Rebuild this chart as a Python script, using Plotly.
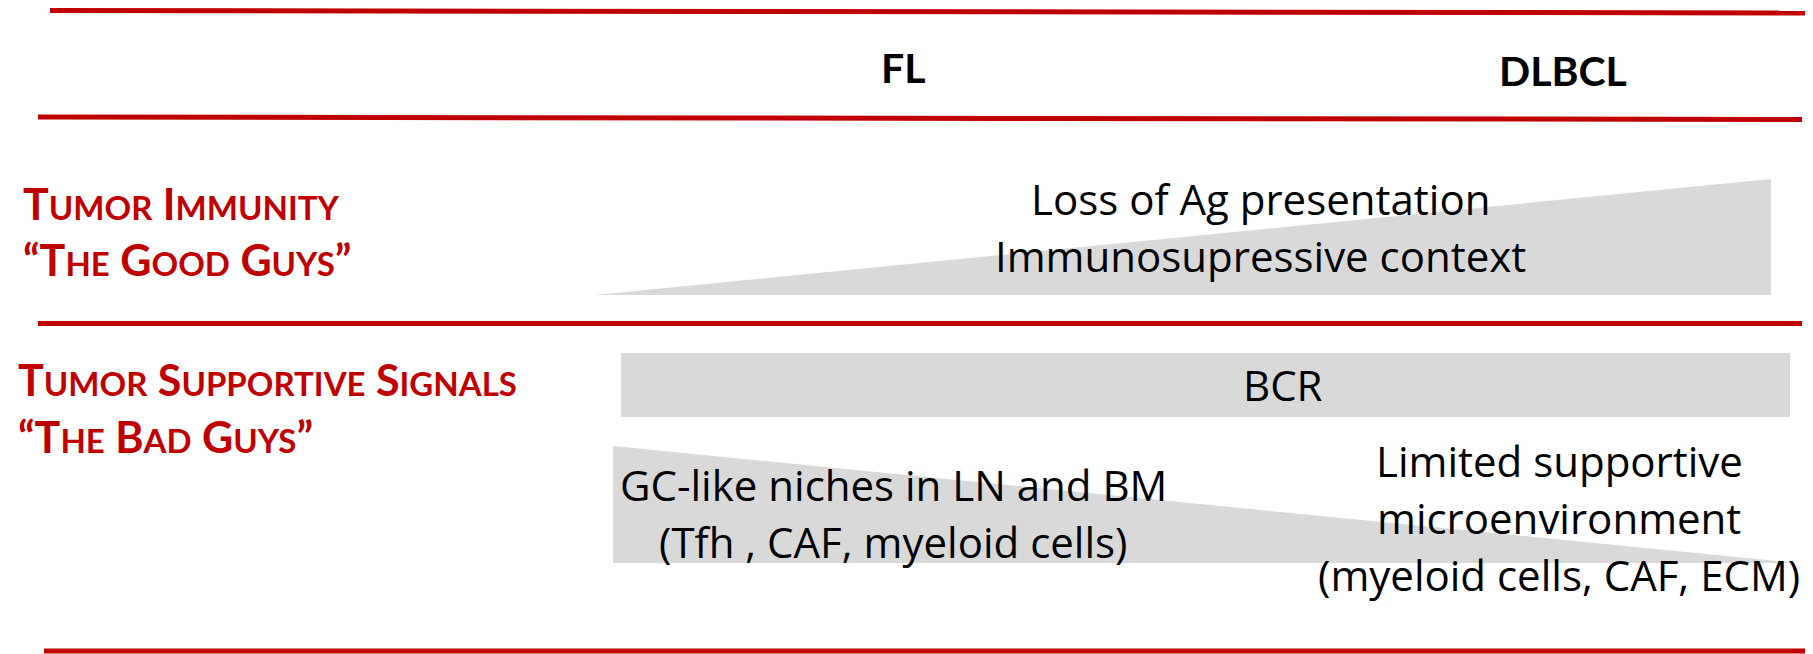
import plotly.graph_objects as go

# ---- content ----
stages = ["FL", "DLBCL"]
row_titles = [
    ["TUMOR IMMUNITY", "“THE GOOD GUYS”"],
    ["TUMOR SUPPORTIVE SIGNALS", "“THE BAD GUYS”"],
]
immunity_lines = ["Loss of Ag presentation", "Immunosupressive context"]
bcr_label = "BCR"
fl_niche_lines = ["GC-like niches in LN and BM", "(Tfh , CAF, myeloid cells)"]
dlbcl_niche_lines = ["Limited supportive", "microenvironment", "(myeloid cells, CAF, ECM)"]

RED = "#C00000"
GRAY = "#D9D9D9"
W, H = 1813, 654
OFF = 8  # page body margin: makes data coords equal page pixels
HEAD_FONT = "Lato"
BODY_FONT = "Open Sans"

def small_caps(s, small):
    out = []
    for word in s.split(" "):
        i = 0
        head = ""
        while i < len(word) and not word[i].isalpha():
            head += word[i]
            i += 1
        if i < len(word):
            head += word[i]
            i += 1
        rest = word[i:]
        tail = ""
        while rest and not rest[-1].isalpha():
            tail = rest[-1] + tail
            rest = rest[:-1]
        w = head
        if rest:
            w += f"<span style='font-size:{small}px'>{rest}</span>"
        out.append(w + tail)
    return " ".join(out)

fig = go.Figure()

def poly(xs, ys, **kw):
    fig.add_trace(go.Scatter(x=xs, y=ys, hoverinfo="skip", showlegend=False,
                             cliponaxis=False, **kw))

# red separator lines
rules = [((50, 10.5), (W, 13)), ((38, 117), (1802, 119.5)),
         ((38, 323.5), (1802, 323.5)), ((44, 651), (1808, 651))]
for (x0, y0), (x1, y1) in rules:
    poly([x0, x1], [y0, y1], mode="lines", line=dict(color=RED, width=5))

# gray wedge: tumor immunity loss increases toward DLBCL
poly([595, 1771, 1771, 595], [295, 179, 295, 295], mode="lines", fill="toself",
     fillcolor=GRAY, line=dict(width=0, color=GRAY))
# BCR band
poly([621, 1790, 1790, 621, 621], [353, 353, 417, 417, 353], mode="lines",
     fill="toself", fillcolor=GRAY, line=dict(width=0, color=GRAY))
# supportive niche wedge decreasing toward DLBCL
poly([613, 1797, 613, 613], [446, 563, 563, 446], mode="lines", fill="toself",
     fillcolor=GRAY, line=dict(width=0, color=GRAY))

ann = []
def text(x, y, s, size, family, color="black", bold=False, xanchor="center"):
    ann.append(dict(x=x, y=y, text=(f"<b>{s}</b>" if bold else s), showarrow=False,
                    xanchor=xanchor, yanchor="middle",
                    font=dict(family=family, size=size, color=color)))

# stage headers
text(903, 67, stages[0], 41, HEAD_FONT, bold=True)
text(1563, 70, stages[1], 41, HEAD_FONT, bold=True)

# row titles
title_y = [[203, 259], [379, 436]]
title_x = [21, 16]
for r, lines in enumerate(row_titles):
    for k, s in enumerate(lines):
        text(title_x[r], title_y[r][k], small_caps(s, 33), 43, HEAD_FONT,
             color=RED, bold=True, xanchor="left")

BODY = 42
# immunity text
for s, y in zip(immunity_lines, [198, 255]):
    text(1260, y, s, BODY, BODY_FONT)
# BCR
text(1283, 384, bcr_label, BODY, BODY_FONT)
# niche texts
for s, y in zip(fl_niche_lines, [484, 541]):
    text(893, y, s, BODY, BODY_FONT)
for s, y in zip(dlbcl_niche_lines, [460, 517, 574]):
    text(1559, y, s, BODY, BODY_FONT)

fig.update_layout(
    width=W, height=H, margin=dict(l=0, r=0, t=0, b=0),
    paper_bgcolor="white", plot_bgcolor="white",
    xaxis=dict(range=[OFF, W + OFF], visible=False, fixedrange=True),
    yaxis=dict(range=[H + OFF, OFF], visible=False, fixedrange=True),
    annotations=ann, showlegend=False,
)
fig.write_html("out.html", config={"displayModeBar": False})
